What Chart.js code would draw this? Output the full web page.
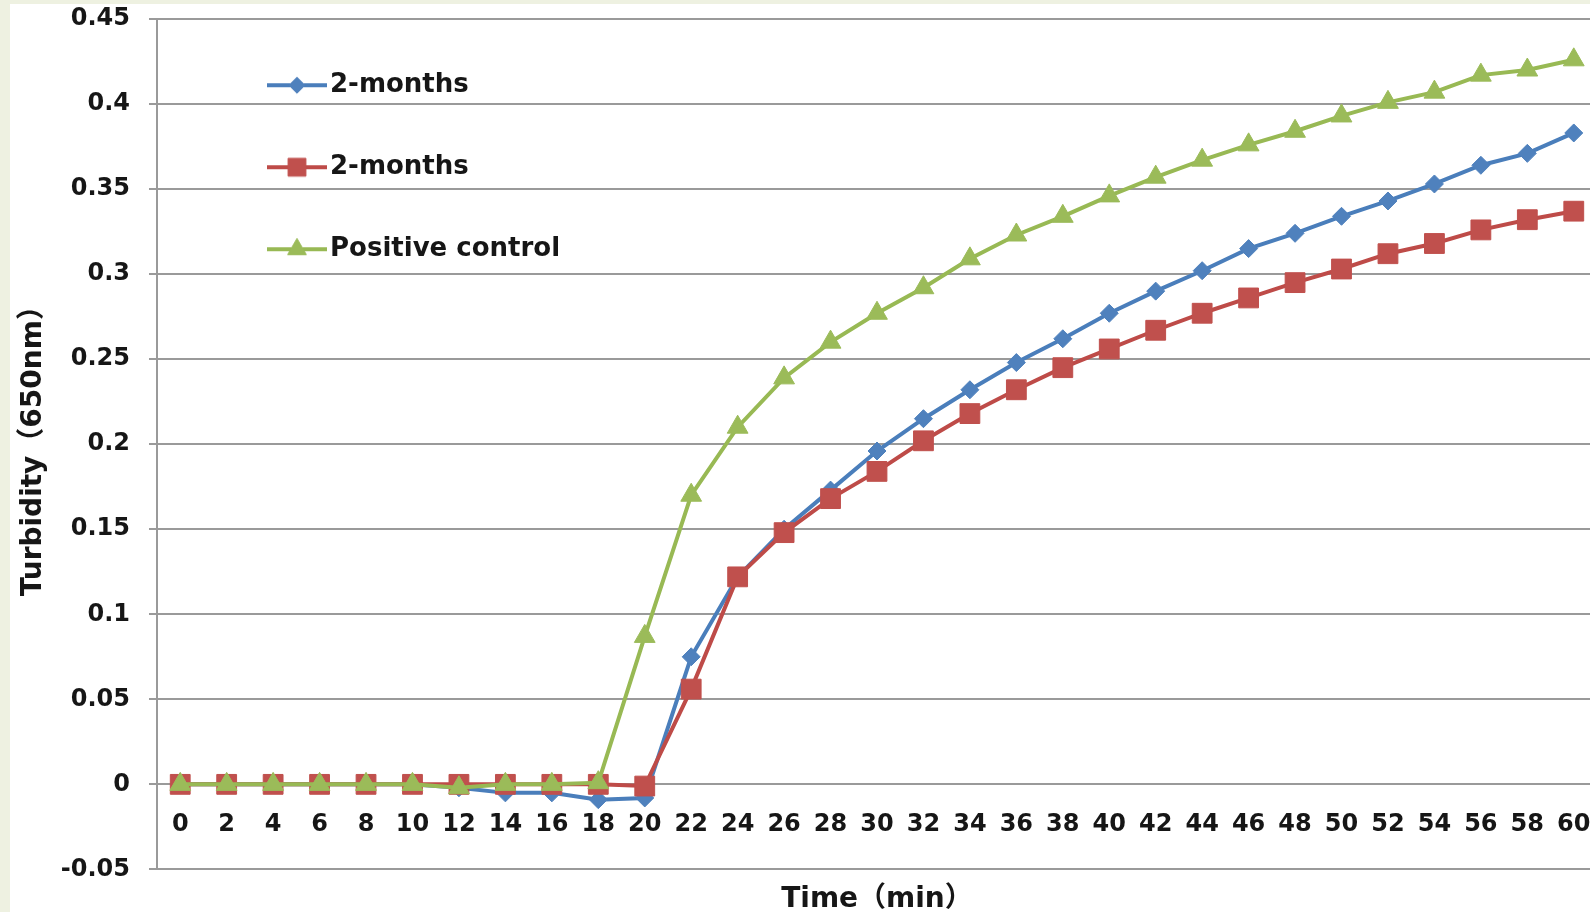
<!DOCTYPE html>
<html lang="en">
<head>
  <meta charset="UTF-8">
  <title>Turbidity over time</title>
  <script src="https://cdn.jsdelivr.net/npm/chart.js@4.4.1/dist/chart.umd.min.js"></script>
  <style>
    body { margin: 0; background: #fff; overflow: hidden; }
    #stripLeft { position: absolute; left: 0; top: 0; width: 10px; height: 912px; background: #eef1e1; }
    #stripTop { position: absolute; left: 0; top: 0; width: 1590px; height: 4px; background: #eef1e1; }
    #wrap { position: absolute; left: 0; top: 0; width: 1612px; height: 912px; z-index: 1; }
  </style>
</head>
<body>
  <div id="stripLeft"></div>
  <div id="stripTop"></div>
  <div id="wrap"><canvas id="chart" width="1612" height="912"></canvas></div>
  <script>
    // time points (min)
    const times = [0, 2, 4, 6, 8, 10, 12, 14, 16, 18, 20, 22, 24, 26, 28, 30,
      32, 34, 36, 38, 40, 42, 44, 46, 48, 50, 52, 54, 56, 58, 60];

    const seriesNames = ["2-months", "2-months", "Positive control"];

    const blueVals = [0, 0, 0, 0, 0, 0, -0.002, -0.005, -0.005, -0.009, -0.008,
      0.075, 0.122, 0.150, 0.173, 0.196, 0.215, 0.232, 0.248, 0.262, 0.277,
      0.290, 0.302, 0.315, 0.324, 0.334, 0.343, 0.353, 0.364, 0.371, 0.383];

    const redVals = [0, 0, 0, 0, 0, 0, 0, 0, 0, 0, -0.001,
      0.056, 0.122, 0.148, 0.168, 0.184, 0.202, 0.218, 0.232, 0.245, 0.256,
      0.267, 0.277, 0.286, 0.295, 0.303, 0.312, 0.318, 0.326, 0.332, 0.337];

    const greenVals = [0, 0, 0, 0, 0, 0, -0.002, 0, 0, 0.001, 0.087,
      0.170, 0.210, 0.239, 0.260, 0.277, 0.292, 0.309, 0.323, 0.334, 0.346,
      0.357, 0.367, 0.376, 0.384, 0.393, 0.401, 0.407, 0.417, 0.420, 0.426];

    const yTicks = [-0.05, 0, 0.05, 0.1, 0.15, 0.2, 0.25, 0.3, 0.35, 0.4, 0.45];

    const lineColors = ["#4a7ebb", "#be4b48", "#98b954"];
    const markColors = ["#4f81bd", "#c0504d", "#9bbb59"];
    const markStyles = ["rectRot", "rect", "triangle"];
    const markRadius = [9, 14, 12];

    const FONT = '"DejaVu Sans", "Noto Sans CJK SC"';
    const INK = "#161616";

    // small line+marker icon for the legend, marker drawn with Chart.js helper
    function legendIcon(i) {
      const c = document.createElement("canvas");
      c.width = 124; c.height = 30;
      const g = c.getContext("2d");
      g.strokeStyle = lineColors[i];
      g.lineWidth = 4;
      g.beginPath(); g.moveTo(64, 15); g.lineTo(124, 15); g.stroke();
      g.fillStyle = markColors[i];
      g.strokeStyle = markColors[i];
      g.lineWidth = 1;
      Chart.helpers.drawPoint(g, {
        pointStyle: markStyles[i], radius: markRadius[i] * 0.9, rotation: 0, borderWidth: 1
      }, 94, 15);
      return c;
    }

    const allVals = [blueVals, redVals, greenVals];
    const datasets = allVals.map((vals, i) => ({
      label: seriesNames[i],
      data: vals,
      borderColor: lineColors[i],
      backgroundColor: markColors[i],
      pointBorderColor: markColors[i],
      pointBackgroundColor: markColors[i],
      borderWidth: 4,
      pointStyle: markStyles[i],
      pointRadius: markRadius[i],
      pointBorderWidth: 1,
      tension: 0,
      order: 2 - i
    }));

    const chart = new Chart(document.getElementById("chart"), {
      type: "line",
      data: { labels: times, datasets },
      options: {
        responsive: false,
        animation: false,
        devicePixelRatio: 1,
        layout: { padding: { left: 10, top: 19, right: 3, bottom: 0 } },
        scales: {
          x: {
            type: "category",
            offset: true,
            position: { y: 0 },
            grid: { display: false, drawTicks: false },
            border: { display: false },
            ticks: { color: INK, font: { family: FONT, size: 24, weight: "bold" }, padding: 26, maxRotation: 0, autoSkip: false },
            afterFit: (s) => { s.height = 0; s.paddingLeft = 0; s.paddingRight = 0; }
          },
          y: {
            min: -0.05,
            max: 0.45,
            afterBuildTicks: (s) => { s.ticks = yTicks.map(v => ({ value: v })); },
            grid: { color: "#9a9a9a", lineWidth: 2, tickLength: 8, drawTicks: true },
            border: { display: true, color: "#9a9a9a", width: 2 },
            ticks: {
              color: INK,
              font: { family: FONT, size: 24, weight: "bold" },
              padding: 19,
              callback: (v) => String(parseFloat(Number(v).toFixed(2)))
            },
            title: {
              display: true,
              text: "Turbidity（650nm）",
              color: INK,
              font: { family: FONT, size: 28, weight: "bold" },
              padding: { top: 7, bottom: 0 }
            },
            afterFit: (s) => { s.width = 147; s.paddingTop = 0; s.paddingBottom = 0; }
          }
        },
        plugins: {
          legend: {
            position: "chartArea",
            align: "start",
            fullSize: false,
            title: { display: true, text: "", font: { size: 1 }, padding: { top: 15, bottom: 0 } },
            labels: {
              usePointStyle: true,
              pointStyleWidth: 104,
              padding: 56,
              color: INK,
              font: { family: FONT, size: 26, weight: "bold" },
              generateLabels: () => seriesNames.map((t, i) => ({
                text: t,
                pointStyle: legendIcon(i),
                fillStyle: markColors[i],
                strokeStyle: lineColors[i],
                lineWidth: 0,
                hidden: false,
                datasetIndex: i,
                fontColor: INK
              }))
            }
          },
          title: {
            display: true,
            position: "bottom",
            fullSize: false,
            text: "Time（min）",
            color: INK,
            font: { family: FONT, size: 28, weight: "bold" },
            padding: { top: 14, bottom: -5 }
          },
          tooltip: { enabled: false }
        }
      }
    });

    // nudge the plot box so that 0.45 sits at y=19 and -0.05 at y=869
    const dTop = chart.chartArea.top - 19;
    const dBot = chart.chartArea.bottom - 869;
    if (Math.abs(dTop) > 0.5 || Math.abs(dBot) > 0.5) {
      chart.options.layout.padding.top -= dTop;
      chart.options.plugins.title.padding.bottom += dBot;
      chart.update();
    }
  </script>
</body>
</html>
